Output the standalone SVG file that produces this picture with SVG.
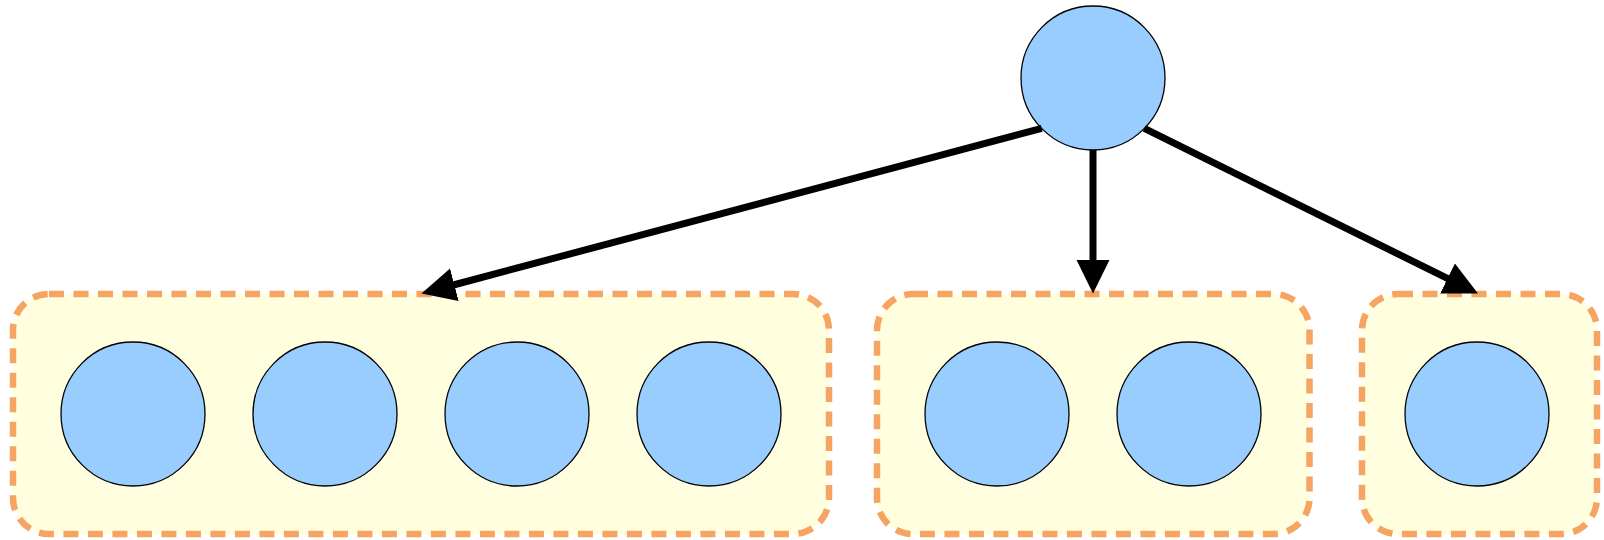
<svg xmlns="http://www.w3.org/2000/svg" width="1604" height="540" viewBox="0 0 1604 540">
  <style>
    .grp { fill: #FFFFE0; stroke: #F5A462; stroke-width: 6.5; stroke-dasharray: 15 9.5; }
    .node { fill: #99CCFF; stroke: #000000; stroke-width: 1.3; }
    .edge { fill: none; stroke: #000000; stroke-width: 7; }
  </style>
  <defs>
    <marker id="arrow" markerUnits="userSpaceOnUse" viewBox="0 -17 34 34" refX="1" refY="0" markerWidth="34" markerHeight="34" orient="auto">
      <path d="M0,-16.7 L34,0 L0,16.7 Z" fill="#000000"/>
    </marker>
  </defs>
  <rect width="1604" height="540" fill="#FFFFFF"/>
  <g id="group1"><rect class="grp" x="13" y="294" width="816" height="240" rx="36" ry="36"/></g>
  <g id="group2"><rect class="grp" x="877" y="294" width="432.5" height="240" rx="36" ry="36"/></g>
  <g id="group3"><rect class="grp" x="1362" y="294" width="235" height="240" rx="36" ry="36"/></g>
  <g id="root"><circle class="node" cx="1093" cy="78" r="72"/></g>
  <g id="n1"><circle class="node" cx="133" cy="414" r="72"/></g>
  <g id="n2"><circle class="node" cx="325" cy="414" r="72"/></g>
  <g id="n3"><circle class="node" cx="517" cy="414" r="72"/></g>
  <g id="n4"><circle class="node" cx="709" cy="414" r="72"/></g>
  <g id="n5"><circle class="node" cx="997" cy="414" r="72"/></g>
  <g id="n6"><circle class="node" cx="1189" cy="414" r="72"/></g>
  <g id="n7"><circle class="node" cx="1477" cy="414" r="72"/></g>
  <g id="connectors">
    <path class="edge" d="M1041.7,128.3 L453.4,285" marker-end="url(#arrow)"/>
    <path class="edge" d="M1093,150 L1093,260.5" marker-end="url(#arrow)"/>
    <path class="edge" d="M1144.3,128.3 L1448.4,278.9" marker-end="url(#arrow)"/>
  </g>
</svg>
